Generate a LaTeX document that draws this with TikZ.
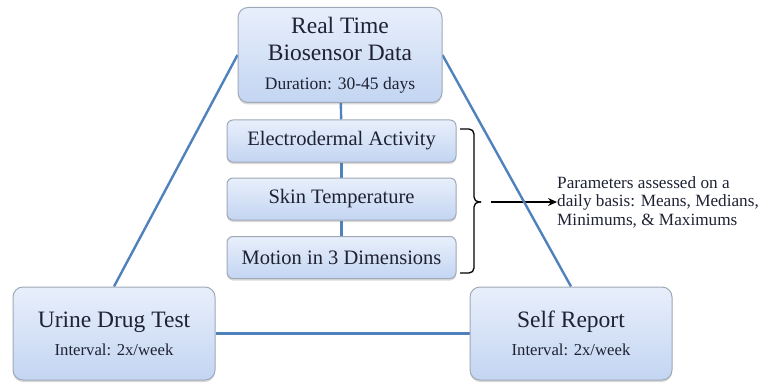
\documentclass[tikz,border=0pt]{standalone}
\usepackage{fontspec}
\setmainfont{Liberation Serif}
\usetikzlibrary{arrows.meta,shadows,backgrounds}
\definecolor{ink}{HTML}{1E2233}
\definecolor{edge}{HTML}{4F81BD}
\definecolor{rim}{HTML}{A0A9B8}
\definecolor{boxtop}{HTML}{E8EFFB}
\definecolor{boxbot}{HTML}{C3D5F2}
\tikzset{
  >={Stealth[length=9pt,width=8pt]},
  box/.style={draw=rim, line width=1pt, rounded corners=10pt, top color=boxtop, bottom color=boxbot,
              text=ink, align=center, minimum width=202pt, minimum height=93pt, inner sep=0pt,
              drop shadow={shadow xshift=0pt, shadow yshift=-2pt, opacity=0.25, fill=black!60},
              font=\fontsize{23.5}{27}\selectfont},
  item/.style={box, rounded corners=6pt, minimum width=229pt, minimum height=42pt,
               font=\fontsize{20.5}{23}\selectfont},
  link/.style={draw=edge, line width=2.4pt},
  brk/.style={draw=black, line width=1.3pt},
  note/.style={text=ink, align=left, inner sep=0pt, font=\fontsize{17.2}{18.5}\selectfont},
}
\begin{document}
\begin{tikzpicture}[x=1pt,y=-1pt]
  \useasboundingbox (0,0) rectangle (773,385);
  \node[box, minimum width=204pt, minimum height=95pt] (rt) at (340,55)
    {Real Time\\Biosensor Data\\[2pt]\fontsize{17.5}{19}\selectfont Duration: 30-45 days};
  \node[item] (eda) at (341.5,141) {Electrodermal Activity};
  \node[item] (skin) at (341.5,199) {Skin Temperature};
  \node[item] (mot) at (341.5,257.5) {Motion in 3 Dimensions};
  \node[box] (udt) at (114,333.5)
    {Urine Drug Test\\[1pt]\fontsize{16.7}{18}\selectfont Interval: 2x/week};
  \node[box] (sr) at (571,333.5)
    {Self Report\\[1pt]\fontsize{16.7}{18}\selectfont Interval: 2x/week};
  \node[note, anchor=west] (par) at (557,202)
    {Parameters assessed on a\\daily basis: Means, Medians,\\Minimums, \& Maximums};
  % brace and arrow
  \coordinate (bt) at (460,129);
  \coordinate (bb) at (460,273);
  \coordinate (ast) at (491,202);
  \begin{pgfonlayer}{background}
    \draw[brk, ->] (ast) -- (par.west);
    % links behind the boxes
    \draw[link] (rt) -- (eda);
    \draw[link] (eda) -- (skin);
    \draw[link] (skin) -- (mot);
    \draw[link] (rt.west) -- (udt.north);
    \draw[link] (rt.east) -- (sr.north);
    \draw[link] (udt) -- (sr);
  \end{pgfonlayer}
  \draw[brk, rounded corners=5pt] (bt) -- ++(14,0) -- ++(0,73) -- ++(7,0);
  \draw[brk, rounded corners=5pt] (bb) -- ++(14,0) -- ++(0,-71) -- ++(7,0);
\end{tikzpicture}
\end{document}
